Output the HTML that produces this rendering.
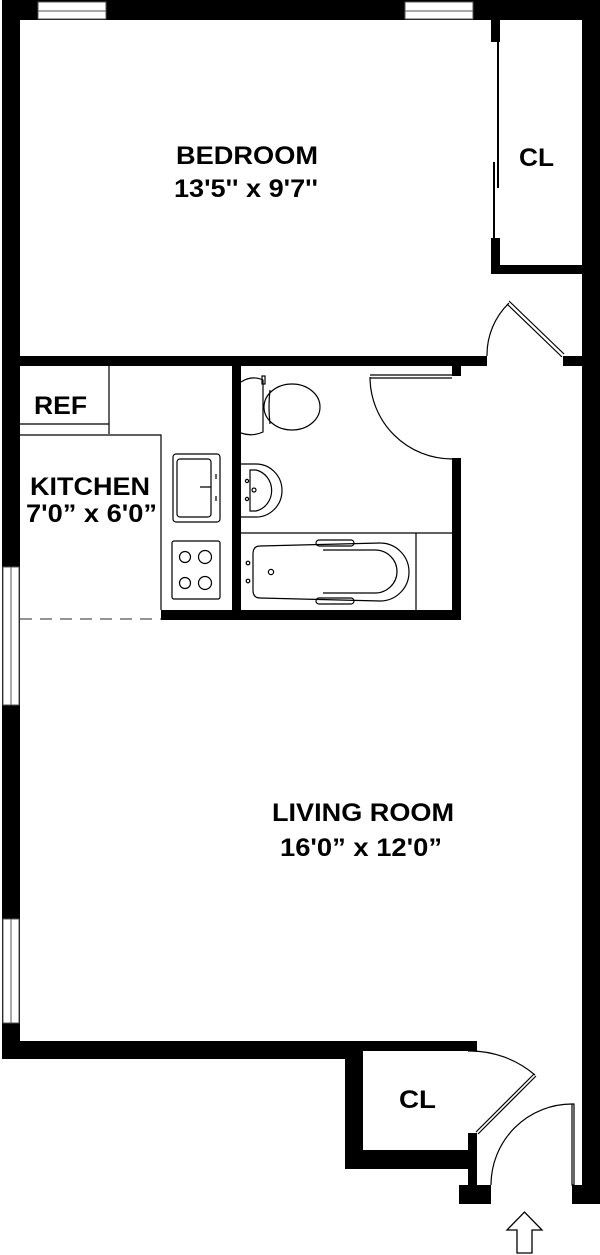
<!DOCTYPE html>
<html><head><meta charset="utf-8"><style>
html,body{margin:0;padding:0;background:#fff;}
svg{display:block;}
text{font-family:"Liberation Sans",Arial,sans-serif;font-weight:bold;fill:#000;}
</style></head><body>
<svg width="600" height="1255" viewBox="0 0 600 1255" xmlns="http://www.w3.org/2000/svg">
<g fill="#000">
<rect x="2" y="0" width="598" height="20"/>
<rect x="2" y="0" width="18" height="1059"/>
<rect x="582" y="0" width="18" height="1204"/>
<rect x="491" y="20" width="9" height="22"/>
<rect x="491" y="238" width="9" height="36"/>
<rect x="491" y="265" width="91" height="9"/>
<rect x="2" y="356" width="485" height="10"/>
<rect x="563" y="356" width="19" height="10"/>
<rect x="232" y="366" width="9" height="254"/>
<rect x="452" y="366" width="9" height="10"/>
<rect x="452" y="458" width="9" height="162"/>
<rect x="161" y="610" width="300" height="10"/>
<rect x="2" y="1041" width="343" height="18"/>
<rect x="345" y="1041" width="132" height="10"/>
<rect x="345" y="1041" width="18" height="128"/>
<rect x="345" y="1150" width="132" height="19"/>
<rect x="468" y="1133" width="9" height="52"/>
<rect x="459" y="1185" width="32" height="19"/>
<rect x="572" y="1185" width="28" height="19"/>
</g>
<g fill="#fff" stroke="#555" stroke-width="1">
<rect x="38" y="2" width="68" height="17"/><line x1="38" y1="11" x2="106" y2="11"/>
<rect x="405" y="2" width="68" height="17"/><line x1="405" y1="11" x2="473" y2="11"/>
<rect x="3" y="567" width="16" height="138"/><line x1="11" y1="567" x2="11" y2="705"/>
<rect x="3" y="919" width="16" height="104"/><line x1="11" y1="919" x2="11" y2="1023"/>
</g>
<g fill="none" stroke="#000" stroke-width="1.2">
<line x1="498" y1="42" x2="498" y2="188" stroke-width="2"/>
<line x1="494" y1="162" x2="494" y2="240" stroke-width="2"/>
<path d="M487,356 A72,72 0 0 1 509,303"/>
<path d="M509,301 L564,354 M507,304 L562,357"/>
<path d="M370,377 A82,82 0 0 0 452,459"/>
<path d="M370,375 L452,375 M370,378 L452,378"/>
<line x1="109" y1="366" x2="109" y2="434"/>
<line x1="20" y1="424" x2="109" y2="424"/>
<path d="M20,435 L161,435 L161,610"/>
<line x1="20" y1="619" x2="161" y2="619" stroke="#555" stroke-dasharray="12,8"/>
<rect x="173" y="454" width="47" height="68" rx="3"/>
<rect x="177" y="459" width="34" height="58" rx="3"/>
<path d="M200,487 L211,487 M216,474 L216,479 M216,496 L216,501"/>
<rect x="172" y="541" width="48" height="58" rx="2"/>
<circle cx="185" cy="557" r="5.5"/><circle cx="205" cy="557" r="6.5"/>
<circle cx="185" cy="583" r="5.5"/><circle cx="205" cy="583" r="6.5"/>
<path d="M241,382 Q252,375 263,380 L263,432 Q252,437 241,433"/>
<ellipse cx="292" cy="407" rx="28" ry="23"/>
<path d="M270,390 Q268,407 270,424"/>
<rect x="262" y="376" width="3" height="8"/>
<path d="M241,464 L256,464 A26,26.5 0 0 1 256,517 L241,517"/>
<path d="M250,470 L256,470 A20,21 0 0 1 256,511 L250,511 Z"/>
<circle cx="247" cy="481" r="1.6"/><circle cx="254" cy="490" r="2"/><circle cx="247" cy="499" r="1.6"/>
<line x1="241" y1="533" x2="452" y2="533"/>
<line x1="416" y1="533" x2="416" y2="610"/>
<path d="M260,546 L380,543 A29,29 0 0 1 380,601 L260,598 Q253,598 253,590 L253,554 Q253,546 260,546 Z"/>
<path d="M323,550 L375,550 A22,21.5 0 0 1 375,593 L323,593"/>
<rect x="316" y="540" width="38" height="6" rx="3"/>
<rect x="316" y="598" width="38" height="6" rx="3"/>
<circle cx="248" cy="563" r="1.8"/><circle cx="271" cy="572" r="2.6"/><circle cx="248" cy="581" r="1.8"/>
<path d="M468,1051 A100,100 0 0 1 535,1075"/>
<path d="M536,1076 L478,1134 M534,1074 L476,1132"/>
<path d="M491,1185 A81,81 0 0 1 572,1104"/>
<rect x="572" y="1104" width="2" height="81"/>
<path d="M517,1253 L532,1253 L532,1230 L542,1230 L524.5,1212 L507,1230 L517,1230 Z" stroke-width="1.3"/>
</g>
<text x="176" y="164" font-size="25" textLength="142" lengthAdjust="spacingAndGlyphs">BEDROOM</text>
<text x="174" y="197" font-size="25" textLength="144" lengthAdjust="spacingAndGlyphs">13'5'' x 9'7''</text>
<text x="519" y="166" font-size="25" textLength="35" lengthAdjust="spacingAndGlyphs">CL</text>
<text x="34" y="414" font-size="25" textLength="53" lengthAdjust="spacingAndGlyphs">REF</text>
<text x="30" y="495" font-size="25" textLength="120" lengthAdjust="spacingAndGlyphs">KITCHEN</text>
<text x="26" y="522" font-size="25" textLength="131" lengthAdjust="spacingAndGlyphs">7'0” x 6'0”</text>
<text x="272" y="821" font-size="25" textLength="182" lengthAdjust="spacingAndGlyphs">LIVING ROOM</text>
<text x="280" y="856" font-size="25" textLength="162" lengthAdjust="spacingAndGlyphs">16'0” x 12'0”</text>
<text x="399" y="1108" font-size="25" textLength="37" lengthAdjust="spacingAndGlyphs">CL</text>
</svg>
</body></html>
